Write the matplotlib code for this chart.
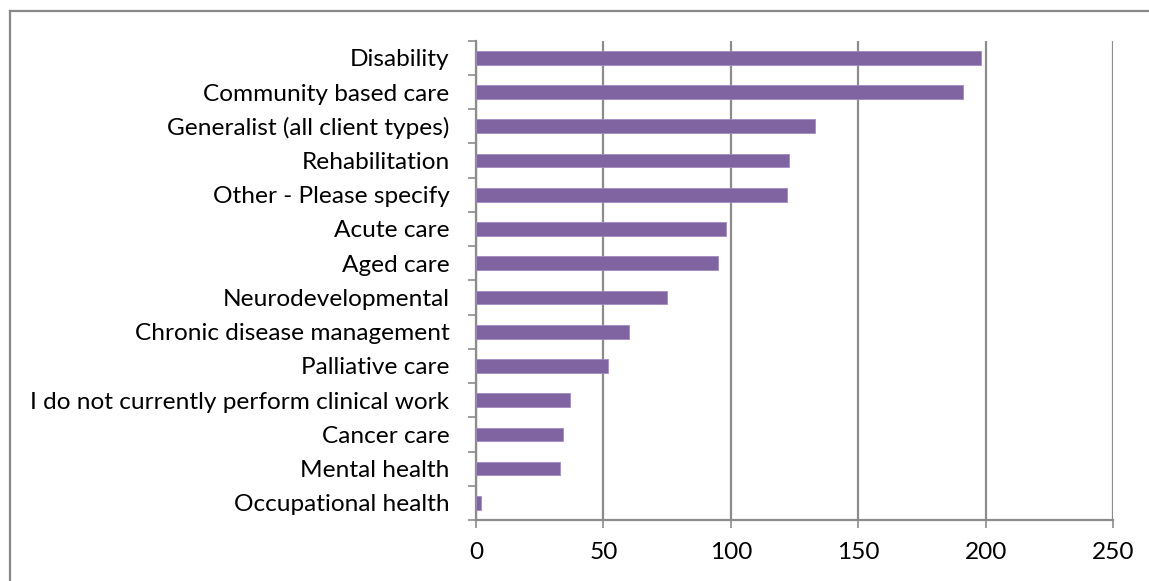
import matplotlib
matplotlib.use("Agg")
import matplotlib.pyplot as plt
from matplotlib.lines import Line2D
import numpy as np

categories = [
    "Disability",
    "Community based care",
    "Generalist (all client types)",
    "Rehabilitation",
    "Other - Please specify",
    "Acute care",
    "Aged care",
    "Neurodevelopmental",
    "Chronic disease management",
    "Palliative care",
    "I do not currently perform clinical work",
    "Cancer care",
    "Mental health",
    "Occupational health",
]
counts = [198, 191, 133, 123, 122, 98, 95, 75, 60, 52, 37, 34, 33, 2]
x_ticks = [0, 50, 100, 150, 200, 250]

bar_color = "#8064A2"
grid_color = "#8C8C8C"

plt.rcParams["font.family"] = ["Lato", "DejaVu Sans"]
label_size = 17.6

fig = plt.figure(figsize=(11.49, 5.81), dpi=100)
ax = fig.add_axes([476 / 1149, 1 - 520 / 581, (1113 - 476) / 1149, (520 - 40.7) / 581])

n = len(categories)
y = np.arange(n)
ax.barh(y, counts, height=0.4, color=bar_color, edgecolor="#A08CC0", linewidth=0.6, zorder=3)

ax.set_xlim(0, 250)
ax.set_ylim(n - 0.5, -0.5)

ax.set_xticks(x_ticks)
ax.set_xticklabels([str(t) for t in x_ticks], fontsize=label_size)
ax.xaxis.grid(True, color=grid_color, linewidth=1.6, zorder=0)
ax.tick_params(axis="x", direction="out", length=6, width=1.2, color=grid_color, pad=10)

# Category boundaries carry the tick marks; labels sit at the bar centres
ax.set_yticks(np.arange(-0.5, n, 1.0))
ax.set_yticklabels([])
ax.tick_params(axis="y", which="major", direction="out", length=6, width=1.2, color=grid_color)
ax.set_yticks(y, minor=True)
ax.set_yticklabels(categories, minor=True, fontsize=label_size)
ax.tick_params(axis="y", which="minor", length=0, pad=19)

for side in ["top", "right"]:
    ax.spines[side].set_visible(False)
for side in ["left", "bottom"]:
    ax.spines[side].set_color(grid_color)
    ax.spines[side].set_linewidth(1.6)

# Outer chart frame (top and left edges)
fig.add_artist(Line2D([9.5 / 1149, 9.5 / 1149], [0, 1 - 10.5 / 581], transform=fig.transFigure,
                      color="#888888", linewidth=1.6))
fig.add_artist(Line2D([9.5 / 1149, 1], [1 - 10.5 / 581, 1 - 10.5 / 581], transform=fig.transFigure,
                      color="#888888", linewidth=1.6))

fig.savefig("out.png", dpi=100)
